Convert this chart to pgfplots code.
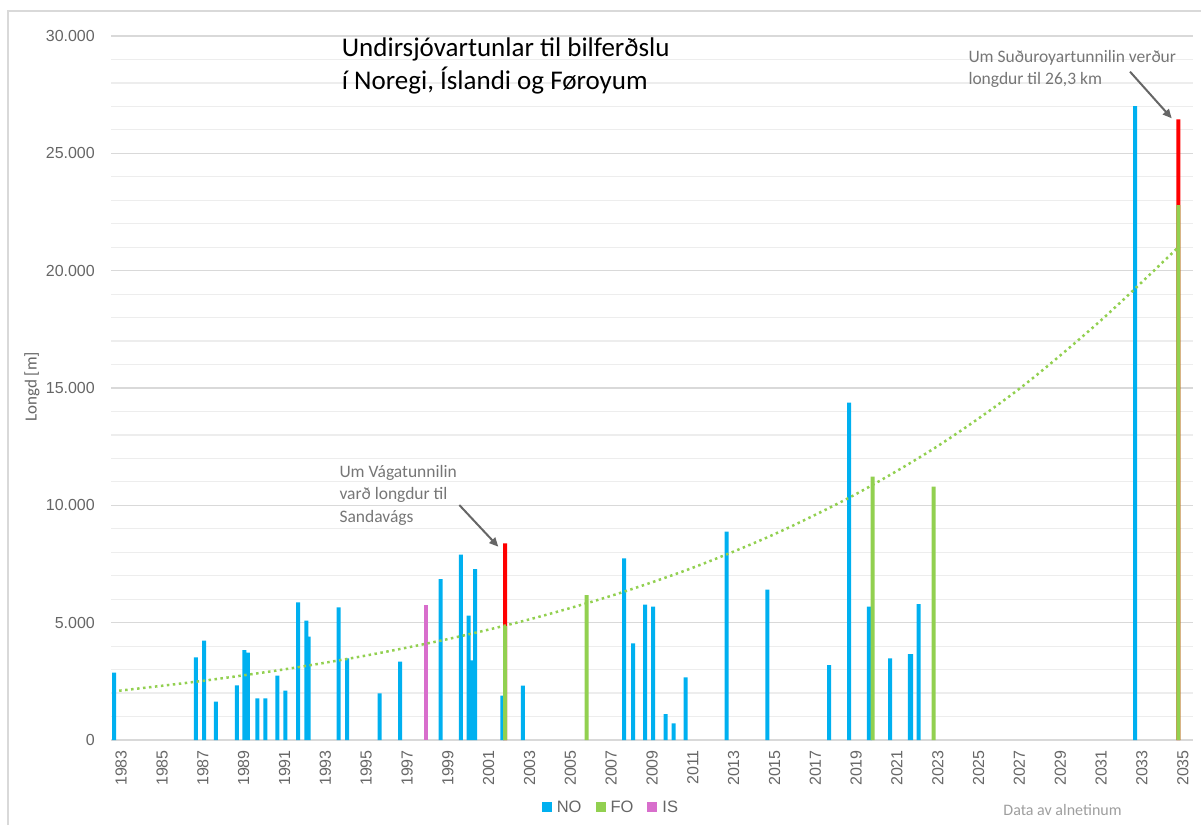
\documentclass[border=0pt]{standalone}
\usepackage{pgfplots}
\pgfplotsset{compat=1.18}
\usepackage{fontspec}
\setmainfont{Liberation Sans}
\newfontfamily\carlito{Carlito}
\usetikzlibrary{arrows.meta}
\definecolor{noblue}{HTML}{00B0F0}
\definecolor{fogreen}{HTML}{92D050}
\definecolor{ispink}{HTML}{D86ECC}
\definecolor{txtgray}{HTML}{666666}
\definecolor{anngray}{HTML}{767676}
\definecolor{majgrid}{HTML}{D9D9D9}
\definecolor{mingrid}{HTML}{EDEDED}
\begin{document}
\begin{tikzpicture}
\path[use as bounding box] (0pt,0pt) rectangle (1201pt,825pt);
\draw[majgrid, line width=1.5pt] (8pt,0pt) -- (8pt,814pt) -- (1205pt,814pt);
\begin{axis}[
  at={(111pt,85pt)}, anchor=south west,
  scale only axis, width=1082pt, height=704pt,
  xmin=1982.5, xmax=2035.5, ymin=0, ymax=30000,
  axis x line*=bottom, axis y line*=left,
  x axis line style={draw=majgrid, line width=1.5pt, -},
  y axis line style={draw=none},
  major tick length=0pt, minor tick length=0pt,
  xtick={1983,1985,...,2035},
  ytick={0,5000,...,30000},
  minor ytick={1000,2000,3000,4000,6000,7000,8000,9000,11000,12000,13000,14000,16000,17000,18000,19000,21000,22000,23000,24000,26000,27000,28000,29000},
  ymajorgrids, yminorgrids,
  major grid style={draw=majgrid, line width=1.5pt},
  minor grid style={draw=mingrid, line width=1.2pt},
  scaled y ticks=false,
  /pgf/number format/assume math mode=true,
  tick label style={font=\fontsize{16}{16}\selectfont, text=txtgray},
  xticklabel style={rotate=90, anchor=east, inner sep=0pt, /pgf/number format/1000 sep={}},
  yticklabel style={anchor=east, inner sep=0pt, /pgf/number format/fixed, /pgf/number format/1000 sep={.}},
  xticklabel shift=10pt,
  yticklabel shift=16pt,
  legend style={at={(0.462,-0.0952)}, anchor=center, legend columns=-1, draw=none, fill=none,
    font=\fontsize{16.5}{16.5}\selectfont, text=txtgray, inner sep=0pt,
    /tikz/every even column/.append style={column sep=12pt}},
  legend cell align=left,
  legend image code/.code={\fill[#1] (0pt,-5pt) rectangle (10pt,5pt); \path (13pt,0pt);},
]
% red extensions (drawn first, green drawn over)
\addplot[ybar, bar width=4pt, bar shift=0pt, fill=red, draw=none, forget plot] coordinates {
(2001.81,8380) (2034.78,26450)
};
\addplot[ybar, bar width=4pt, bar shift=0pt, fill=noblue, draw=none] coordinates {
(1982.65,2870) (1986.66,3522) (1987.06,4232) (1987.64,1633) (1988.66,2329)
(1989.03,3834) (1989.20,3720) (1989.67,1775) (1990.06,1775) (1990.65,2741)
(1991.04,2102) (1991.66,5865) (1992.07,5084) (1992.18,4402) (1993.65,5652)
(1994.06,3479) (1995.66,1988) (1996.66,3337) (1998.65,6859) (1999.64,7895)
(2000.02,5297) (2000.12,3394) (2000.20,3394) (2000.33,7285) (2001.67,1889)
(2002.67,2315) (2007.64,7739) (2008.07,4118) (2008.66,5765) (2009.06,5680)
(2009.67,1108) (2010.06,710) (2010.65,2670) (2012.66,8875) (2014.65,6404)
(2017.68,3195) (2018.66,14372) (2019.62,5680) (2019.68,5680) (2020.66,3479)
(2021.63,3664) (2021.69,3664) (2022.06,5794) (2032.66,27013)
};
\addlegendentry{NO}
\addplot[ybar, bar width=4pt, bar shift=0pt, fill=fogreen, draw=none] coordinates {
(2001.81,4856) (2005.80,6177) (2019.81,11220) (2022.80,10793) (2034.78,22795)
};
\addlegendentry{FO}
\addplot[ybar, bar width=4pt, bar shift=0pt, fill=ispink, draw=none] coordinates {
(1997.92,5765)
};
\addlegendentry{IS}
% trend line
\addplot[fogreen, line width=2.5pt, dash pattern=on 2.5pt off 3.5pt, smooth, forget plot] coordinates {
(1982.9,2100) (1987,2521) (1991,3012) (1995,3600) (1999,4301) (2003,5141)
(2007,6144) (2011,7342) (2015,8773) (2019,10484) (2023,12528) (2027,14971)
(2031,17891) (2034.78,21000)
};
\end{axis}
% titles and annotations
\node[anchor=base west, inner sep=0pt, font=\carlito\fontsize{27}{27}\selectfont] at (341.7pt,768.3pt) {Undirsjóvartunlar til bilferðslu};
\node[anchor=base west, inner sep=0pt, font=\carlito\fontsize{27}{27}\selectfont] at (341.7pt,735pt) {í Noregi, Íslandi og Føroyum};
\node[rotate=90, inner sep=0pt, font=\carlito\fontsize{17}{17}\selectfont, text=txtgray] at (32pt,438pt) {Longd [m]};
\begin{scope}[every node/.style={anchor=base west, inner sep=0pt, font=\carlito\fontsize{17.5}{17.5}\selectfont, text=anngray}]
\node at (339.3pt,347.7pt) {Um Vágatunnilin};
\node at (339.3pt,325pt) {varð longdur til};
\node at (339.3pt,302.3pt) {Sandavágs};
\node at (968.3pt,762.3pt) {Um Suðuroyartunnilin verður};
\node at (968.3pt,740pt) {longdur til 26,3 km};
\end{scope}
\draw[-{Triangle[length=9pt,width=8pt]}, line width=2pt, draw=txtgray, fill=txtgray] (459.3pt,320pt) -- (498.3pt,278.3pt);
\draw[-{Triangle[length=9pt,width=8pt]}, line width=2pt, draw=txtgray, fill=txtgray] (1130pt,753.3pt) -- (1171.7pt,706.7pt);
\node[anchor=center, inner sep=0pt, font=\carlito\fontsize{16}{16}\selectfont, text=black!38] at (1062.5pt,15pt) {Data av alnetinum};
\end{tikzpicture}
\end{document}
